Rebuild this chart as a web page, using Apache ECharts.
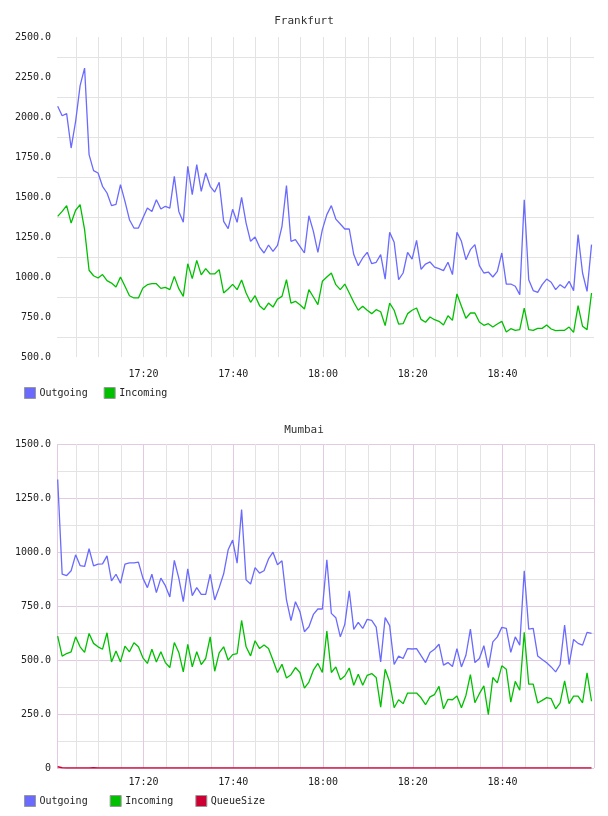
<!DOCTYPE html>
<html>
<head>
<meta charset="utf-8">
<script src="https://cdn.jsdelivr.net/npm/echarts@6/dist/echarts.min.js"></script>
<style>
  html, body { margin: 0; padding: 0; background: #fff; }
  #chart { width: 608px; height: 816px; }
</style>
</head>
<body>
<div id="chart"></div>
<script>
// minutes after 17:00 of the first sample, one sample per minute
const firstMinute = 0.85
const xMin = 0.7
const xMax = 120.4

const frankfurtOut = [
  2067, 2008, 2021, 1806, 1973, 2196, 2306, 1765, 1665, 1650,
  1567, 1525, 1446, 1454, 1577, 1473, 1358, 1306, 1306, 1369,
  1431, 1410, 1483, 1425, 1442, 1431, 1629, 1410, 1342, 1692,
  1515, 1702, 1535, 1650, 1567, 1531, 1592, 1348, 1302, 1423,
  1342, 1497, 1337, 1223, 1250, 1187, 1150, 1200, 1160, 1198,
  1317, 1571, 1223, 1233, 1192, 1150, 1383, 1285, 1154, 1296,
  1390, 1446, 1362, 1331, 1300, 1300, 1140, 1071, 1119, 1154,
  1083, 1092, 1140, 987, 1279, 1217, 983, 1025, 1154, 1112,
  1229, 1048, 1081, 1094, 1062, 1052, 1040, 1092, 1015, 1279,
  1223, 1108, 1171, 1202, 1071, 1025, 1031, 1000, 1035, 1150,
  956, 956, 942, 890, 1483, 983, 915, 904, 952, 987,
  967, 921, 952, 931, 973, 915, 1265, 1025, 910, 1202
]
const frankfurtIn = [
  1379, 1410, 1446, 1337, 1417, 1452, 1296, 1042, 1008, 994,
  1015, 977, 962, 937, 1000, 942, 883, 869, 869, 931,
  952, 958, 958, 929, 935, 921, 1004, 927, 879, 1083,
  990, 1104, 1013, 1052, 1019, 1019, 1046, 900, 925, 954,
  921, 981, 900, 842, 883, 821, 796, 837, 812, 862,
  879, 983, 837, 848, 827, 800, 921, 875, 827, 973,
  1000, 1025, 952, 921, 956, 900, 842, 792, 817, 792,
  771, 796, 783, 696, 837, 792, 706, 708, 771, 792,
  806, 735, 717, 750, 733, 723, 700, 758, 729, 894,
  817, 742, 775, 775, 719, 698, 708, 687, 706, 723,
  656, 677, 667, 671, 806, 671, 667, 679, 679, 700,
  675, 665, 667, 667, 687, 654, 821, 692, 671, 900
]
const mumbaiOut = [
  1336, 897, 891, 913, 987, 937, 933, 1015, 936, 944,
  945, 982, 866, 897, 855, 944, 950, 950, 953, 879,
  835, 897, 812, 879, 844, 792, 961, 879, 770, 922,
  798, 835, 804, 804, 897, 778, 835, 899, 1010, 1055,
  948, 1196, 871, 852, 928, 902, 913, 968, 999, 941,
  959, 778, 682, 770, 724, 631, 654, 711, 736, 736,
  964, 716, 696, 607, 665, 820, 642, 674, 646, 688,
  683, 652, 491, 696, 659, 479, 518, 507, 553, 551,
  553, 520, 488, 535, 550, 573, 476, 488, 470, 553,
  468, 522, 643, 488, 507, 566, 465, 584, 607, 651,
  646, 535, 607, 569, 913, 643, 646, 519, 502, 487,
  468, 445, 479, 662, 479, 595, 577, 569, 628, 623
]
const mumbaiIn = [
  611, 518, 530, 538, 607, 561, 535, 623, 577, 561,
  550, 626, 491, 542, 491, 564, 538, 580, 561, 510,
  484, 550, 491, 538, 488, 465, 581, 535, 445, 572,
  468, 538, 479, 507, 607, 448, 533, 561, 499, 525,
  530, 683, 561, 519, 589, 553, 569, 553, 499, 442,
  480, 417, 432, 465, 442, 370, 398, 453, 484, 442,
  634, 442, 468, 409, 426, 463, 383, 434, 383, 429,
  437, 419, 282, 457, 398, 279, 316, 298, 347, 347,
  347, 325, 293, 329, 340, 378, 274, 318, 316, 333,
  279, 336, 432, 302, 344, 380, 247, 419, 394, 473,
  457, 305, 401, 360, 628, 388, 388, 301, 313, 326,
  321, 274, 302, 403, 298, 333, 333, 302, 440, 309
]
const mumbaiQueue = [
  6, 1, 0, 0, 0, 0, 0, 0, 1, 0,
  0, 0, 0, 0, 0, 0, 0, 0, 0, 0,
  0, 0, 0, 0, 0, 0, 0, 0, 0, 0,
  0, 0, 0, 0, 0, 0, 0, 0, 0, 0,
  0, 0, 0, 0, 0, 0, 0, 0, 0, 0,
  0, 0, 0, 0, 0, 0, 0, 0, 0, 0,
  0, 0, 0, 0, 0, 0, 0, 0, 0, 0,
  0, 0, 0, 0, 0, 0, 0, 0, 0, 0,
  0, 0, 0, 0, 0, 0, 0, 0, 0, 0,
  0, 0, 0, 0, 0, 0, 0, 0, 0, 0,
  0, 0, 0, 0, 0, 0, 0, 0, 0, 0,
  0, 0, 0, 0, 0, 0, 0, 0, 0, 0
]

const titles = ['Frankfurt', 'Mumbai']
const legendTop = ['Outgoing', 'Incoming']
const legendBottom = ['Outgoing', 'Incoming', 'QueueSize']
const colors = { Outgoing: '#6a6aff', Incoming: '#00c000', QueueSize: '#cc0033' }

const FONT = 'DejaVu Sans Mono'
const gray = '#e3e3e3'
const mauve = '#e2cbe2'
const none = 'rgba(0,0,0,0)'

const pairs = (vals) => vals.map((v, i) => [firstMinute + i, v])

const timeLabel = (v) => {
  if (Math.abs(v % 20) > 1e-6 || v <= 0 || v >= 120) return ''
  const h = 17 + Math.floor(v / 60)
  const m = Math.round(v % 60)
  return h + ':' + (m < 10 ? '0' + m : m)
}

// the 19:00 tick has no line in the original, so its colour slot is blank
const xAxisBase = (gridIndex, lineColors, showEdges, margin) => ({
  type: 'value',
  gridIndex,
  min: xMin,
  max: xMax,
  minInterval: 20,
  maxInterval: 20,
  axisLine: { show: false },
  axisTick: { show: false },
  minorTick: { show: false, splitNumber: 4 },
  axisLabel: {
    formatter: timeLabel, margin, color: '#222',
    fontFamily: FONT, fontSize: 10, showMinLabel: true, showMaxLabel: true
  },
  splitLine: {
    show: true, showMinLine: showEdges, showMaxLine: showEdges,
    lineStyle: { color: lineColors, width: 1 }
  },
  minorSplitLine: { show: true, lineStyle: { color: gray, width: 1 } }
})

const chart = echarts.init(document.getElementById('chart'))

const option = {
  backgroundColor: '#fff',
  animation: false,
  title: [
    { text: titles[0], left: 'center', top: 16, padding: 0,
      textStyle: { fontFamily: FONT, fontSize: 11, fontWeight: 'normal', color: '#333' } },
    { text: titles[1], left: 'center', top: 425, padding: 0,
      textStyle: { fontFamily: FONT, fontSize: 11, fontWeight: 'normal', color: '#333' } }
  ],
  legend: [
    { data: legendTop, left: 24, top: 387, padding: 0, itemGap: 16,
      itemWidth: 11, itemHeight: 11, icon: 'rect',
      itemStyle: { borderColor: '#999', borderWidth: 1 },
      textStyle: { fontFamily: FONT, fontSize: 10, color: '#222', padding: [0, 0, 0, -1] } },
    { data: legendBottom, left: 24, top: 795, padding: 0, itemGap: 22,
      itemWidth: 11, itemHeight: 11, icon: 'rect',
      itemStyle: { borderColor: '#999', borderWidth: 1 },
      textStyle: { fontFamily: FONT, fontSize: 10, color: '#222', padding: [0, 0, 0, -1] } }
  ],
  grid: [
    { left: 57, right: 14, top: 37, height: 320 },
    { left: 57, right: 14, top: 444, height: 324 }
  ],
  xAxis: [
    xAxisBase(0, [gray, gray, gray, gray, gray, none], false, 12),
    xAxisBase(1, [mauve, mauve, mauve, mauve, mauve, mauve, none, mauve], true, 9)
  ],
  yAxis: [
    {
      type: 'value', gridIndex: 0, min: 500, max: 2500, interval: 250,
      axisLine: { show: false }, axisTick: { show: false },
      minorTick: { show: false, splitNumber: 2 },
      axisLabel: { formatter: (v) => v.toFixed(1), margin: 6, color: '#222', fontFamily: FONT, fontSize: 10 },
      splitLine: { show: false },
      minorSplitLine: { show: true, lineStyle: { color: gray, width: 1 } }
    },
    {
      type: 'value', gridIndex: 1, min: 0, max: 1500, interval: 250,
      axisLine: { show: false }, axisTick: { show: false },
      minorTick: { show: false, splitNumber: 2 },
      axisLabel: { formatter: (v) => v === 0 ? '0' : v.toFixed(1), margin: 6, color: '#222', fontFamily: FONT, fontSize: 10 },
      splitLine: { show: true, lineStyle: { color: mauve, width: 1 } },
      minorSplitLine: { show: true, lineStyle: { color: gray, width: 1 } }
    }
  ],
  series: [
    { name: 'Outgoing', type: 'line', xAxisIndex: 0, yAxisIndex: 0, data: pairs(frankfurtOut),
      showSymbol: false, color: colors.Outgoing, lineStyle: { width: 1.3 } },
    { name: 'Incoming', type: 'line', xAxisIndex: 0, yAxisIndex: 0, data: pairs(frankfurtIn),
      showSymbol: false, color: colors.Incoming, lineStyle: { width: 1.3 } },
    { name: 'Outgoing', type: 'line', xAxisIndex: 1, yAxisIndex: 1, data: pairs(mumbaiOut),
      showSymbol: false, color: colors.Outgoing, lineStyle: { width: 1.3 } },
    { name: 'Incoming', type: 'line', xAxisIndex: 1, yAxisIndex: 1, data: pairs(mumbaiIn),
      showSymbol: false, color: colors.Incoming, lineStyle: { width: 1.3 } },
    { name: 'QueueSize', type: 'line', xAxisIndex: 1, yAxisIndex: 1, data: pairs(mumbaiQueue),
      showSymbol: false, color: colors.QueueSize, lineStyle: { width: 1.6 } }
  ]
}

chart.setOption(option)
</script>
</body>
</html>
